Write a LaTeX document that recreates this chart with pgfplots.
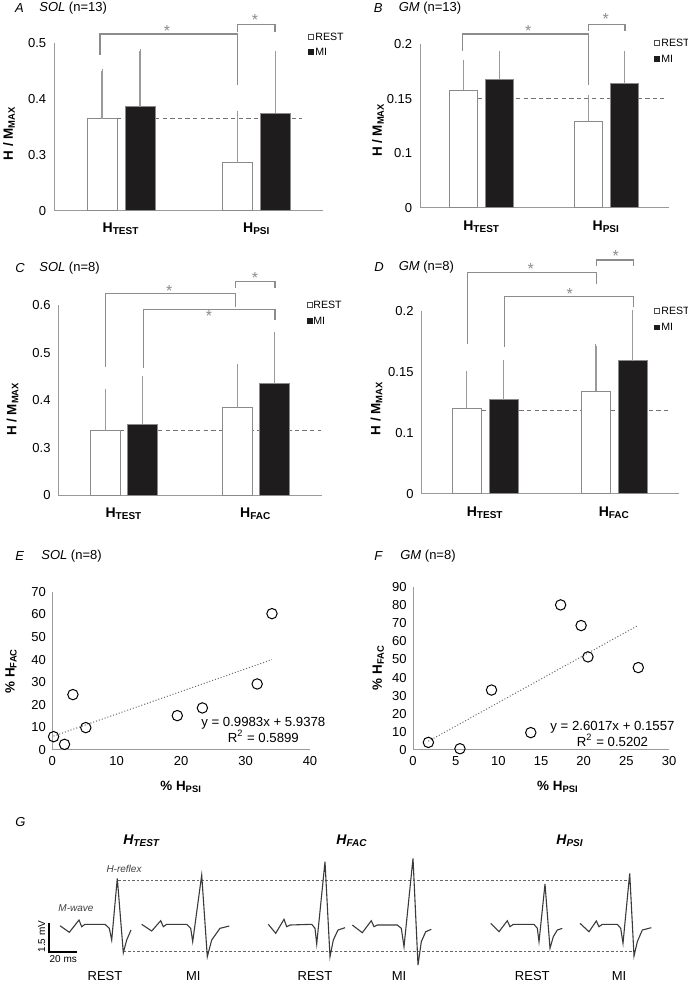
\documentclass[border=0pt]{standalone}
\usepackage{pgfplots}
\pgfplotsset{compat=1.18}
\usepackage{pgfplotstable}
\usepackage{fontspec}
\setmainfont{Liberation Sans}

\definecolor{axgray}{HTML}{9A9A9A}
\definecolor{bargray}{HTML}{8A8A8A}
\definecolor{brgray}{HTML}{8C8C8C}
\definecolor{mifill}{HTML}{1E1C1C}
\definecolor{trace}{HTML}{3A3A3A}
\newcommand{\fs}[2]{\fontsize{#1}{#2}\selectfont}

% means and SD (H/Mmax); x: 0 = H_TEST, 1 = H_PSI or H_FAC
\pgfplotstableread{
x rest restsd mi misd
0 0.364 0.086 0.386 0.099
1 0.286 0.089 0.374 0.108
}\dataA
\pgfplotstableread{
x rest restsd mi misd
0 0.158 0.026 0.168 0.024
1 0.129 0.023 0.164 0.028
}\dataB
\pgfplotstableread{
x rest restsd mi misd
0 0.336 0.084 0.350 0.096
1 0.385 0.086 0.435 0.104
}\dataC
\pgfplotstableread{
x rest restsd mi misd
0 0.120 0.029 0.127 0.031
1 0.134 0.037 0.159 0.040
}\dataD

\pgfplotsset{
  panel/.style={scale only axis, anchor=south west, axis lines=left,
    axis line style={-, draw=axgray, line width=0.5pt},
    major tick length=0pt, clip=false,
    /pgf/number format/assume math mode=true,
    tick label style={font=\fs{6.5}{7.8}, text=black},
    yticklabel style={inner sep=0pt},
    xticklabel style={inner sep=0pt},
    label style={font=\bfseries\fs{6.7}{8}},
    ylabel style={anchor=center},
    xlabel style={anchor=center}},
  barpanel/.style={panel, xtick={0,1}, yticklabel shift=3.7pt,
    xticklabel style={font=\bfseries\fs{7}{8.4}}, xticklabel shift=6pt},
  scatpanel/.style={panel, yticklabel shift=3pt, xticklabel shift=3pt},
  restbar/.style={ybar, bar shift=0pt, fill=white, draw=bargray, line width=0.5pt,
    error bars/y dir=plus, error bars/y explicit,
    error bars/error bar style={draw=axgray, line width=0.6pt},
    error bars/error mark options={draw=axgray, mark size=1pt, line width=0.5pt}},
  mibar/.style={restbar, fill=mifill},
  pts/.style={only marks, mark=o, mark size=2.6pt, black, mark options={line width=0.5pt}},
  trend/.style={densely dotted, draw=black!60, line width=0.5pt},
  canvas/.style={scale only axis, anchor=south west, at={(0pt,0pt)}, width=344pt, height=492pt,
    xmin=0, xmax=688, ymin=0, ymax=984, y dir=reverse, hide axis, clip=false},
}

\begin{document}
\begin{tikzpicture}
\useasboundingbox (0,0) rectangle (344pt,492pt);

% dashed H_TEST REST levels, behind the bars (image pixels)
\begin{axis}[canvas]
\begin{scope}[draw=black!55, dash pattern=on 2.2pt off 1.6pt, line width=0.5pt]
\draw (117,118.7) -- (302,118.7);
\draw (478,98.7) -- (664,98.7);
\draw (120,430.7) -- (321,430.7);
\draw (481.3,410.7) -- (668,410.7);
\end{scope}
\end{axis}

% A
\begin{axis}[barpanel, at={(27pt,386.65pt)}, width=134.65pt, height=84pt,
  xmin=-0.494, xmax=1.49, ymin=0, ymax=0.3,
  ytick={0,0.1,0.2,0.3}, yticklabels={0,0.3,0.4,0.5},
  xticklabels={H\textsubscript{TEST},H\textsubscript{PSI}},
  ylabel={H / M\textsubscript{MAX}}, ylabel style={at={(axis description cs:-0.167,0.46)}}]
\addplot[restbar, bar width=15pt] table[x expr=\thisrow{x}-0.14, y expr=\thisrow{rest}-0.2, y error=restsd] {\dataA};
\addplot[mibar, bar width=15pt] table[x expr=\thisrow{x}+0.14, y expr=\thisrow{mi}-0.2, y error=misd] {\dataA};
\end{axis}

% B
\begin{axis}[barpanel, at={(210pt,388pt)}, width=124.5pt, height=81.85pt,
  xmin=-0.495, xmax=1.503, ymin=0, ymax=0.15,
  ytick={0,0.05,0.1,0.15}, yticklabels={0,0.1,0.15,0.2},
  xticklabels={H\textsubscript{TEST},H\textsubscript{PSI}},
  ylabel={H / M\textsubscript{MAX}}, ylabel style={at={(axis description cs:-0.169,0.476)}}]
\addplot[restbar, bar width=14pt] table[x expr=\thisrow{x}-0.143, y expr=\thisrow{rest}-0.05, y error=restsd] {\dataB};
\addplot[mibar, bar width=14pt] table[x expr=\thisrow{x}+0.143, y expr=\thisrow{mi}-0.05, y error=misd] {\dataB};
\end{axis}

% C
\begin{axis}[barpanel, at={(29.15pt,244.25pt)}, width=131.7pt, height=95.25pt,
  xmin=-0.498, xmax=1.5, ymin=0, ymax=0.4,
  ytick={0,0.1,0.2,0.3,0.4}, yticklabels={0,0.3,0.4,0.5,0.6},
  xticklabels={H\textsubscript{TEST},H\textsubscript{FAC}},
  ylabel={H / M\textsubscript{MAX}}, ylabel style={at={(axis description cs:-0.174,0.454)}}]
\addplot[restbar, bar width=14.8pt] table[x expr=\thisrow{x}-0.14, y expr=\thisrow{rest}-0.2, y error=restsd] {\dataC};
\addplot[mibar, bar width=14.8pt] table[x expr=\thisrow{x}+0.14, y expr=\thisrow{mi}-0.2, y error=misd] {\dataC};
\end{axis}

% D
\begin{axis}[barpanel, at={(210.65pt,245pt)}, width=128.85pt, height=91.65pt,
  xmin=-0.495, xmax=1.501, ymin=0, ymax=0.15,
  ytick={0,0.05,0.1,0.15}, yticklabels={0,0.1,0.15,0.2},
  xticklabels={H\textsubscript{TEST},H\textsubscript{FAC}},
  ylabel={H / M\textsubscript{MAX}}, ylabel style={at={(axis description cs:-0.174,0.468)}}]
\addplot[restbar, bar width=14.5pt] table[x expr=\thisrow{x}-0.1425, y expr=\thisrow{rest}-0.05, y error=restsd] {\dataD};
\addplot[mibar, bar width=14.5pt] table[x expr=\thisrow{x}+0.1425, y expr=\thisrow{mi}-0.05, y error=misd] {\dataD};
\end{axis}

% E
\begin{axis}[scatpanel, at={(26.15pt,117pt)}, width=128.85pt, height=79.15pt,
  xmin=0, xmax=40, ymin=0, ymax=70, xtick={0,10,...,40}, ytick={0,10,...,70},
  xlabel={\% H\textsubscript{PSI}}, xlabel style={at={(axis description cs:0.5,-0.232)}},
  ylabel={\% H\textsubscript{FAC}}, ylabel style={at={(axis description cs:-0.16,0.5)}}]
\addplot[trend] coordinates {(0.2,6.14) (34.1,39.98)};
\addplot[pts] coordinates {
  (0.2,5.9) (1.9,2.5) (3.2,24.5) (5.2,9.9)
  (19.4,15.2) (23.3,18.6) (31.8,29.2) (34.1,60.3)};
\end{axis}

% F
\begin{axis}[scatpanel, at={(206.5pt,117pt)}, width=128pt, height=81.5pt,
  xmin=0, xmax=30, ymin=0, ymax=90, xtick={0,5,...,30}, ytick={0,10,...,90},
  xlabel={\% H\textsubscript{PSI}}, xlabel style={at={(axis description cs:0.566,-0.225)}},
  ylabel={\% H\textsubscript{FAC}}, ylabel style={at={(axis description cs:-0.136,0.506)}}]
\addplot[trend] coordinates {(1.8,4.84) (26.4,68.84)};
\addplot[pts] coordinates {
  (1.8,4.2) (5.5,0.7) (9.2,33.1) (13.8,9.6)
  (17.3,80.1) (19.7,68.7) (20.5,51.4) (26.4,45.5)};
\end{axis}

% canvas in image pixels: titles, brackets, legends and panel G
\begin{axis}[canvas]
% panel titles
\begin{scope}[font=\fs{6.5}{7.8}]
\node[anchor=west] at (8,8.3) {\itshape A};
\node[anchor=west] at (32.3,8.3) {\textit{SOL} (n=13)};
\node[anchor=west] at (366.7,8.3) {\itshape B};
\node[anchor=west] at (391.7,8.3) {\textit{GM} (n=13)};
\node[anchor=west] at (8.3,268.3) {\itshape C};
\node[anchor=west] at (32.3,268.3) {\textit{SOL} (n=8)};
\node[anchor=west] at (367.3,267.3) {\itshape D};
\node[anchor=west] at (391.7,267.3) {\textit{GM} (n=8)};
\node[anchor=west] at (8.3,556) {\itshape E};
\node[anchor=west] at (34.3,556) {\textit{SOL} (n=8)};
\node[anchor=west] at (367.3,556) {\itshape F};
\node[anchor=west] at (393.3,556) {\textit{GM} (n=8)};
\node[anchor=west] at (8.3,821.7) {\itshape G};
\end{scope}
% significance brackets
\begin{scope}[draw=brgray, line width=0.6pt]
\draw (100,55) -- (100,34) -- (237.7,34) -- (237.7,85);
\draw (237.7,31.7) -- (237.7,24.3) -- (275,24.3) -- (275,31.7);
\draw (462.3,50.7) -- (462.3,34) -- (588.3,34) -- (588.3,85);
\draw (588.3,30.7) -- (588.3,24.3) -- (625,24.3) -- (625,30.7);
\draw (105.3,366.7) -- (105.3,293.3) -- (235.3,293.3) -- (235.3,306.7);
\draw (235.3,287.7) -- (235.3,281.7) -- (275,281.7) -- (275,287.7);
\draw (143.3,368.3) -- (143.3,309.3) -- (275,309.3) -- (275,320);
\draw (467.3,344) -- (467.3,272.3) -- (596.3,272.3) -- (596.3,284);
\draw (596.3,266) -- (596.3,260) -- (633.3,260) -- (633.3,266);
\draw (504.7,346.7) -- (504.7,296.7) -- (633.3,296.7) -- (633.3,306.7);
\end{scope}
\begin{scope}[every node/.style={text=brgray, font=\fs{8}{9}, inner sep=0pt}]
\node at (167,31) {*};
\node at (255,19.7) {*};
\node at (528.3,31.3) {*};
\node at (605.7,19) {*};
\node at (169.3,291.3) {*};
\node at (255,278) {*};
\node at (209,316.3) {*};
\node at (530.7,268.7) {*};
\node at (615.7,256.3) {*};
\node at (569.7,293.7) {*};
\end{scope}
% legends
\begin{scope}[line width=0.35pt]
\draw[fill=white, draw=black!70] (308.4,34.4) rectangle (313.1,39.1);
\draw[fill=mifill, draw=mifill] (308.4,49.4) rectangle (313.1,54.1);
\draw[fill=white, draw=black!70] (654.2,40.4) rectangle (658.9,45.1);
\draw[fill=mifill, draw=mifill] (654.2,56.4) rectangle (658.9,61.1);
\draw[fill=white, draw=black!70] (307.2,302.7) rectangle (311.9,307.4);
\draw[fill=mifill, draw=mifill] (307.2,318.7) rectangle (311.9,323.4);
\draw[fill=white, draw=black!70] (654.2,308.4) rectangle (658.9,313.1);
\draw[fill=mifill, draw=mifill] (654.2,325) rectangle (658.9,329.7);
\end{scope}
\begin{scope}[every node/.style={anchor=west, inner sep=0pt, font=\fs{5.3}{6.4}}]
\node at (315,36.7) {REST};
\node at (315,51.7) {MI};
\node at (661,42.7) {REST};
\node at (661,58.7) {MI};
\node at (313,305) {REST};
\node at (313,321) {MI};
\node at (661,310.7) {REST};
\node at (661,327.3) {MI};
\end{scope}
% regression equations
\node[align=center, font=\fs{6.6}{8}] at (263.3,730.3) {y = 0.9983x + 5.9378\\R\textsuperscript{2} = 0.5899};
\node[align=center, font=\fs{6.6}{7.9}] at (612.5,733.8) {y = 2.6017x + 0.1557\\R\textsuperscript{2} = 0.5202};

% panel G: representative traces
\node[font=\bfseries\itshape\fs{7}{8.4}] at (141.7,841) {H\textsubscript{TEST}};
\node[font=\bfseries\itshape\fs{7}{8.4}] at (352,841) {H\textsubscript{FAC}};
\node[font=\bfseries\itshape\fs{7}{8.4}] at (570,841) {H\textsubscript{PSI}};
\begin{scope}[draw=black!60, dash pattern=on 1.3pt off 1pt, line width=0.45pt]
\draw (118.3,880) -- (629,880);
\draw (123.3,951) -- (633.3,951);
\end{scope}
\node[font=\itshape\fs{5}{6}, text=black!75] at (124,869.3) {H-reflex};
\node[font=\itshape\fs{5}{6}, text=black!75] at (76,908.3) {M-wave};
\draw[line width=1pt] (49,923.3) -- (49,951.7);
\draw[line width=1pt] (48.3,951.7) -- (77.3,951.7);
\node[rotate=90, font=\fs{5}{6}] at (41.7,936.7) {1.5 mV};
\node[font=\fs{5}{6}] at (63.3,959) {20 ms};
\begin{scope}[every node/.style={font=\fs{6.5}{7.8}}]
\node at (105,976) {REST};
\node at (193.3,976) {MI};
\node at (315,976) {REST};
\node at (399,976) {MI};
\node at (532.3,976) {REST};
\node at (619,976) {MI};
\end{scope}
\addplot[trace, line width=0.55pt] coordinates {(60,925.7) (69.3,932.3) (79,920) (81.7,926.7) (85,924.3) (105,924.3) (109.3,928.3) (111.7,940) (117.3,878.3) (123.3,952.7) (126.7,940) (131,930)};
\addplot[trace, line width=0.55pt] coordinates {(141.7,924.3) (151.7,931) (160.7,920.7) (163.3,926.7) (166.7,924.3) (186.7,924.3) (190.7,928.3) (192.7,941.7) (201.7,875) (207.3,956.7) (211.7,940) (220,928.3) (229.3,926)};
\addplot[trace, line width=0.55pt] coordinates {(268.3,924.3) (275.7,933.3) (284,919.3) (286.7,926.7) (290,925) (311.7,924.3) (315,928.3) (316.7,944) (325,861.7) (330,956.7) (333.3,940) (338,930) (345,927.7)};
\addplot[trace, line width=0.55pt] coordinates {(352.3,925) (362.3,932.7) (371.3,920.7) (374,926.7) (377.3,925) (397.3,925) (401.3,928.3) (404,946.7) (413,858.3) (418,965) (421.3,941.7) (425.7,931.7) (431.3,929.3)};
\addplot[trace, line width=0.55pt] coordinates {(490.7,923.3) (499,931.7) (507.3,920.7) (510,926.7) (513.3,924.3) (534,924.3) (537.3,928.3) (539,941.7) (545,884) (550,948.3) (553.3,936.7) (557.3,930) (562.3,928.3)};
\addplot[trace, line width=0.55pt] coordinates {(580,923.3) (589,931.7) (596.3,921) (599,926.7) (602.3,924.3) (617.3,924.3) (620.7,928.3) (623,943.3) (629.7,873.3) (634,956) (637.3,941.7) (642.3,930) (651.3,927.7)};
\end{axis}
\end{tikzpicture}
\end{document}
